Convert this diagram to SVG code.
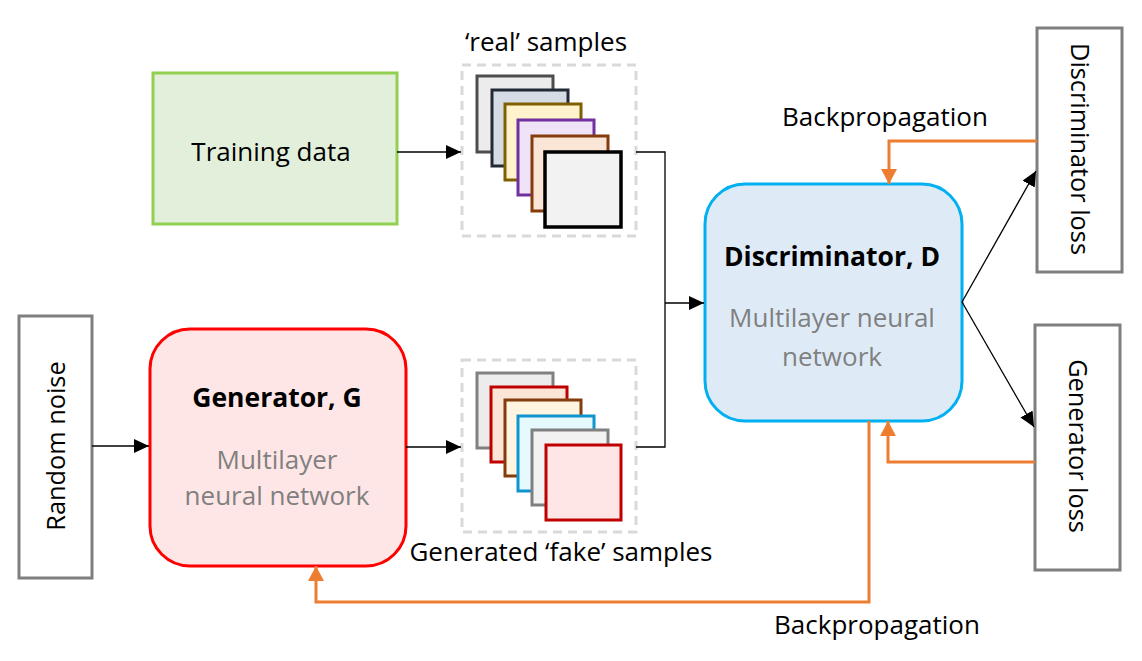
<svg xmlns="http://www.w3.org/2000/svg" width="1142" height="661" viewBox="0 0 1142 661">
  <defs>
    <marker id="ab" markerUnits="userSpaceOnUse" markerWidth="15" markerHeight="14" refX="15" refY="7" orient="auto">
      <path d="M0,0 L15,7 L0,14 z" fill="#000"/>
    </marker>
    <marker id="ao" markerUnits="userSpaceOnUse" markerWidth="15" markerHeight="16" refX="15" refY="8" orient="auto">
      <path d="M0,0 L15,8 L0,16 z" fill="#ed7d31"/>
    </marker>
  </defs>
  <style>
    text { font-family: "Open Sans", "Noto Sans", "DejaVu Sans", sans-serif; font-size: 26px; fill: #000; }
    .title { font-weight: bold; font-size: 26.5px; }
    .sub { fill: #808080; }
    .vert { font-size: 25.3px; }
    .gbox { fill: #fff; stroke: #7f7f7f; stroke-width: 3; }
    .dash { fill: none; stroke: #d9d9d9; stroke-width: 3; stroke-dasharray: 9 6; }
    .sq { stroke-width: 3; }
    .blk { fill: none; stroke: #000; stroke-width: 1.3; }
    .org { fill: none; stroke: #ed7d31; stroke-width: 3; }
  </style>

  <g id="training-data">
    <rect x="153" y="73" width="244" height="151" fill="#e2efda" stroke="#92d050" stroke-width="3"/>
    <text x="271" y="161" text-anchor="middle">Training data</text>
  </g>

  <g id="real-samples">
    <text x="546" y="51" text-anchor="middle">‘real’ samples</text>
    <rect class="dash" x="462" y="65" width="174" height="171"/>
    <rect class="sq" x="477" y="76" width="76" height="76" fill="#ececec" stroke="#4d4d4d"/>
    <rect class="sq" x="492" y="90" width="76" height="76" fill="#d6dce5" stroke="#222a35"/>
    <rect class="sq" x="505" y="104" width="76" height="76" fill="#fff2cc" stroke="#7f6000"/>
    <rect class="sq" x="518" y="120" width="76" height="75" fill="#efe3f7" stroke="#7030a0"/>
    <rect class="sq" x="532" y="136" width="76" height="75" fill="#fbe5d6" stroke="#843c0c"/>
    <rect x="545" y="152" width="76" height="75" fill="#f2f2f2" stroke="#000" stroke-width="3.5"/>
  </g>

  <g id="fake-samples">
    <rect class="dash" x="462" y="360" width="174" height="172"/>
    <rect class="sq" x="477" y="373" width="76" height="75" fill="#ececec" stroke="#808080"/>
    <rect class="sq" x="491" y="387" width="76" height="75" fill="#fbe5d6" stroke="#c00000"/>
    <rect class="sq" x="505" y="400" width="76" height="76" fill="#fff5e1" stroke="#843c0c"/>
    <rect class="sq" x="518" y="416" width="76" height="75" fill="#e6fafe" stroke="#0f94d0"/>
    <rect class="sq" x="532" y="430" width="76" height="75" fill="#f2f2f2" stroke="#808080"/>
    <rect class="sq" x="546" y="445" width="75" height="75" fill="#ffe6e6" stroke="#c00000"/>
    <text x="561" y="561" text-anchor="middle">Generated ‘fake’ samples</text>
  </g>

  <g id="random-noise">
    <rect class="gbox" x="19" y="316" width="73" height="262"/>
    <text class="vert" transform="translate(65,446) rotate(-90)" text-anchor="middle">Random noise</text>
  </g>

  <g id="generator">
    <rect x="150" y="329" width="256" height="237" rx="40" ry="40" fill="#ffe6e6" stroke="#ff0000" stroke-width="3"/>
    <text class="title" x="277" y="407" text-anchor="middle">Generator, G</text>
    <text class="sub" x="277" y="469" text-anchor="middle">Multilayer</text>
    <text class="sub" x="277" y="505" text-anchor="middle">neural network</text>
  </g>

  <g id="discriminator">
    <rect x="705" y="184" width="257" height="237" rx="40" ry="40" fill="#deebf7" stroke="#00b0f0" stroke-width="3"/>
    <text class="title" x="832" y="266" text-anchor="middle">Discriminator, D</text>
    <text class="sub" x="832" y="327" text-anchor="middle">Multilayer neural</text>
    <text class="sub" x="832" y="366" text-anchor="middle">network</text>
  </g>

  <g id="discriminator-loss">
    <rect class="gbox" x="1037" y="28" width="85" height="244"/>
    <text class="vert" transform="translate(1071,149) rotate(90)" text-anchor="middle">Discriminator loss</text>
  </g>

  <g id="generator-loss">
    <rect class="gbox" x="1035" y="325" width="85" height="245"/>
    <text class="vert" transform="translate(1069,446) rotate(90)" text-anchor="middle">Generator loss</text>
  </g>

  <g id="labels">
    <text x="885" y="126" text-anchor="middle">Backpropagation</text>
    <text x="877" y="634" text-anchor="middle">Backpropagation</text>
  </g>

  <g id="connectors">
    <path class="blk" d="M397,152 H461" marker-end="url(#ab)"/>
    <path class="blk" d="M92,446 H149" marker-end="url(#ab)"/>
    <path class="blk" d="M406,447 H461" marker-end="url(#ab)"/>
    <path class="blk" d="M636,152 H665 V447 H636"/>
    <path class="blk" d="M665,303 H704" marker-end="url(#ab)"/>
    <path class="blk" d="M962,302 L1036,171" marker-end="url(#ab)"/>
    <path class="blk" d="M962,302 L1034,427" marker-end="url(#ab)"/>
    <path class="org" d="M1037,141 H889 V184" marker-end="url(#ao)"/>
    <path class="org" d="M1035,462 H888 V421" marker-end="url(#ao)"/>
    <path class="org" d="M869,421 V602 H316 V566" marker-end="url(#ao)"/>
  </g>
</svg>
